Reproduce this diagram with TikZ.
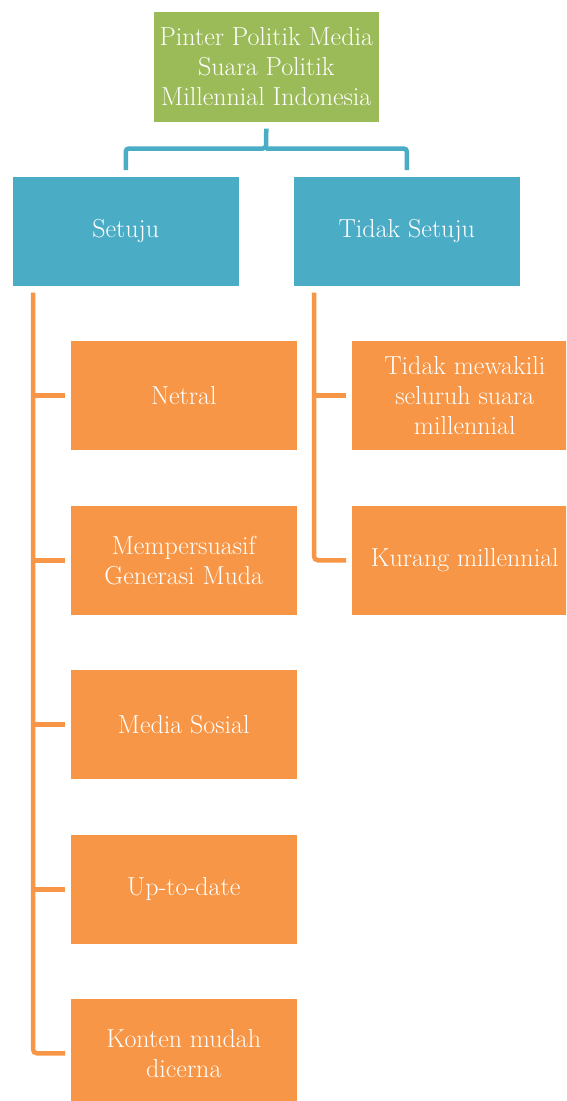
\documentclass[tikz,border=0pt]{standalone}
\usepackage{fontspec}
\definecolor{cgreen}{HTML}{9BBB59}
\definecolor{cblue}{HTML}{4BACC6}
\definecolor{corange}{HTML}{F79646}
\begin{document}
\begin{tikzpicture}[x=1pt,y=-1pt,
  box/.style={draw=white, line width=0.6pt, anchor=north west, text=white, align=center,
    inner sep=0pt, font=\fontsize{26}{30}\selectfont},
  rootbox/.style={box, fill=cgreen, minimum width=226pt, minimum height=111pt},
  catbox/.style={box, fill=cblue, minimum width=227pt, minimum height=110pt},
  itembox/.style={box, fill=corange, minimum width=227pt, minimum height=110pt},
  blueline/.style={draw=cblue, line width=4.5pt, rounded corners=3pt},
  orangeline/.style={draw=corange, line width=4.5pt, rounded corners=4pt}]
\clip (0,0) rectangle (566,1101);
\fill[white] (0,0) rectangle (566,1101);
\node[rootbox] (root) at (153,11) {Pinter Politik Media\\Suara Politik\\Millennial Indonesia};
\node[catbox] (setuju) at (12,176) {Setuju};
\node[catbox] (tidak) at (293,176) {Tidak Setuju};
\node[itembox] (c1) at (70,340) {Netral};
\node[itembox] (c2) at (70,505) {Mempersuasif\\Generasi Muda};
\node[itembox] (c3) at (70,669) {Media Sosial};
\node[itembox] (c4) at (70,834) {Up-to-date};
\node[itembox] (c5) at (70,998) {Konten mudah\\dicerna};
\node[itembox] (d1) at (351,340) {Tidak mewakili\\seluruh suara\\millennial};
\node[itembox] (d2) at (351,505) {Kurang millennial};
% blue connectors
\coordinate (bj) at (266,148.5);
\draw[blueline] ([yshift=-6pt]root.south) -- (bj) -| ([yshift=6pt]setuju.north);
\draw[blueline] (bj) -| ([yshift=6pt]tidak.north);
% orange connectors
\coordinate (lv) at ([xshift=21pt,yshift=-6pt]setuju.south west);
\coordinate (rv) at ([xshift=21pt,yshift=-6pt]tidak.south west);
\draw[orangeline] (lv) |- ([xshift=-5pt]c5.west);
\foreach \c in {c1,c2,c3,c4} \draw[orangeline] (lv |- \c.west) -- ([xshift=-5pt]\c.west);
\draw[orangeline] (rv) |- ([xshift=-5pt]d2.west);
\draw[orangeline] (rv |- d1.west) -- ([xshift=-5pt]d1.west);
\end{tikzpicture}
\end{document}
